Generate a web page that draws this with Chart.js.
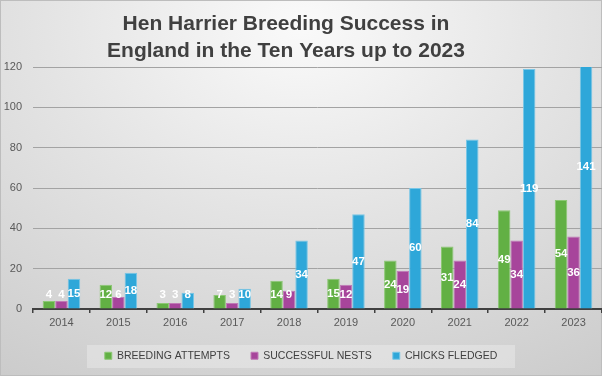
<!DOCTYPE html>
<html>
<head>
<meta charset="utf-8">
<script src="https://cdn.jsdelivr.net/npm/chart.js@4.4.1/dist/chart.umd.min.js"></script>
<style>
  html, body { margin: 0; padding: 0; background: #d6d6d6; }
  #wrap { width: 602px; height: 376px; position: relative; }
  canvas { display: block; }
</style>
</head>
<body>
<div id="wrap"><canvas id="c" width="602" height="376"></canvas></div>
<script>
const titleLines = ["Hen Harrier Breeding Success in", "England in the Ten Years up to 2023"];
const years = ["2014", "2015", "2016", "2017", "2018", "2019", "2020", "2021", "2022", "2023"];
const breedingAttempts = [4, 12, 3, 7, 14, 15, 24, 31, 49, 54];
const successfulNests = [4, 6, 3, 3, 9, 12, 19, 24, 34, 36];
const chicksFledged = [15, 18, 8, 10, 34, 47, 60, 84, 119, 141];
const seriesNames = ["BREEDING ATTEMPTS", "SUCCESSFUL NESTS", "CHICKS FLEDGED"];
const yTicks = [0, 20, 40, 60, 80, 100, 120];

const FONT = "'Liberation Sans', Arial, sans-serif";

const bgPlugin = {
  id: 'bg',
  beforeDraw(chart) {
    const ctx = chart.ctx, w = chart.width, h = chart.height;
    ctx.save();
    ctx.translate(w / 2, 25);
    ctx.scale(1.35, 1);
    const g = ctx.createRadialGradient(0, 0, 0, 0, 0, 420);
    g.addColorStop(0, '#fafafa');
    g.addColorStop(0.45, '#e4e4e4');
    g.addColorStop(1, '#cbcbcb');
    ctx.fillStyle = g;
    ctx.fillRect(-w, -50, 2 * w, h + 100);
    ctx.restore();
    ctx.save();
    ctx.fillStyle = 'rgba(255,255,255,0.28)';
    ctx.fillRect(87, 345, 428, 23);
    ctx.restore();
    ctx.save();
    ctx.strokeStyle = '#bdbdbd';
    ctx.lineWidth = 1;
    ctx.strokeRect(0.5, 0.5, w - 1, h - 1);
    ctx.restore();
  },
  afterDraw(chart) {
    const ctx = chart.ctx;
    ctx.save();
    ctx.fillStyle = '#404040';
    ctx.font = 'bold 21px ' + FONT;
    ctx.textAlign = 'center';
    ctx.textBaseline = 'alphabetic';
    ctx.fillText(titleLines[0], 286, 30);
    ctx.fillText(titleLines[1], 286, 57);
    ctx.restore();
  }
};

const labelPlugin = {
  id: 'barLabels',
  afterDatasetsDraw(chart) {
    const ctx = chart.ctx;
    ctx.save();
    ctx.fillStyle = '#ffffff';
    ctx.font = 'bold 11.5px ' + FONT;
    ctx.textAlign = 'center';
    ctx.textBaseline = 'middle';
    chart.data.datasets.forEach((ds, di) => {
      const meta = chart.getDatasetMeta(di);
      meta.data.forEach((el, i) => {
        const center = (el.y + el.base) / 2;
        const y = Math.min(center, el.base - 14);
        ctx.fillText(String(ds.data[i]), el.x, y);
      });
    });
    ctx.restore();
  }
};

new Chart(document.getElementById('c'), {
  type: 'bar',
  data: {
    labels: years,
    datasets: [
      { label: seriesNames[0], data: breedingAttempts, backgroundColor: '#62b044', borderColor: '#8cc874', borderWidth: 1 },
      { label: seriesNames[1], data: successfulNests, backgroundColor: '#a7459b', borderColor: '#c07ab6', borderWidth: 1 },
      { label: seriesNames[2], data: chicksFledged, backgroundColor: '#2ea7d9', borderColor: '#78c6e6', borderWidth: 1 }
    ]
  },
  options: {
    responsive: false,
    animation: false,
    layout: { padding: { top: 67, right: 0, bottom: 5, left: 0 } },
    datasets: { bar: { categoryPercentage: 0.66, barPercentage: 1.0 } },
    plugins: {
      title: { display: false },
      tooltip: { enabled: false },
      legend: {
        position: 'bottom',
        labels: {
          boxWidth: 7, boxHeight: 7, padding: 21,
          color: '#404040',
          font: { family: FONT, size: 10.5 }
        }
      }
    },
    scales: {
      x: {
        grid: { display: true, drawOnChartArea: false, drawTicks: true, tickLength: 4, color: '#404040', lineWidth: 1.5, offset: true },
        border: { display: true, color: '#404040', width: 2 },
        ticks: { color: '#595959', font: { family: FONT, size: 11 }, padding: 3 },
        afterFit(s) { s.height = 20.5; }
      },
      y: {
        min: 0, max: 120,
        afterBuildTicks(s) { s.ticks = yTicks.map(v => ({ value: v })); },
        grid: { color: '#a3a3a3', lineWidth: 1, drawTicks: false },
        border: { display: false },
        ticks: { color: '#595959', font: { family: FONT, size: 11 }, padding: 11 },
        afterFit(s) { s.width = 33; }
      }
    }
  },
  plugins: [bgPlugin, labelPlugin]
});
</script>
</body>
</html>
